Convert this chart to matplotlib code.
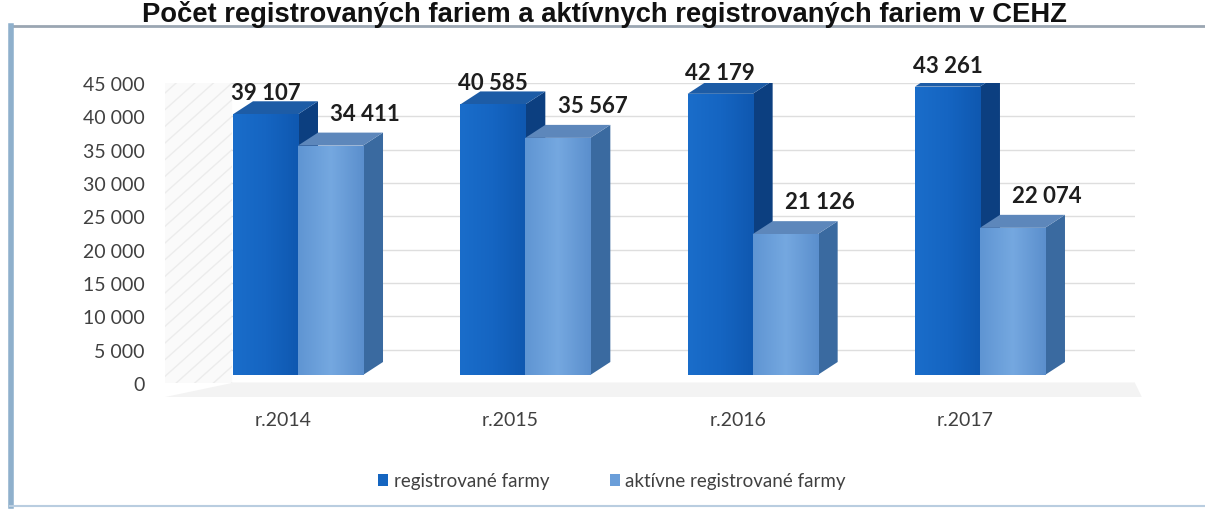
import numpy as np
import matplotlib
matplotlib.use("Agg")
import matplotlib.pyplot as plt
from matplotlib.patches import Polygon, Rectangle
from matplotlib.lines import Line2D
from matplotlib.colors import LinearSegmentedColormap
from matplotlib.transforms import offset_copy

# data
years = ["r.2014", "r.2015", "r.2016", "r.2017"]
registrovane = [39107, 40585, 42179, 43261]
aktivne = [34411, 35567, 21126, 22074]
series_names = ["registrované farmy", "aktívne registrované farmy"]
y_ticks = [0, 5000, 10000, 15000, 20000, 25000, 30000, 35000, 40000, 45000]
title = "Počet registrovaných fariem a aktívnych registrovaných fariem v CEHZ"

W, H = 1205, 510
FONT = "Lato"

# colours of the 3D faces (front, top, side)
dark = ("#1565c0", "#1d5ca6", "#0c3f80")
light = ("#6a9ed9", "#5d87bb", "#3a6aa0")
# horizontal shading of the front faces
dark_grad = LinearSegmentedColormap.from_list("dg", ["#1a6dca", "#1565c2", "#0f58b0"])
light_grad = LinearSegmentedColormap.from_list("lg", ["#5f95d3", "#75a8e0", "#5b8fcd"])

def fmt(v):
    return f"{v:,}".replace(",", " ")

fig = plt.figure(figsize=(W / 100, H / 100), dpi=100)
fig.patch.set_facecolor("white")

# plot area in pixels: x 150..1135, y 84 (top) .. 384 (zero)
ax = fig.add_axes([150 / W, (H - 384) / H, 985 / W, 300 / H])
for s in ax.spines.values():
    s.set_visible(False)
ax.set_facecolor("none")

w = 0.286          # bar width (one series)
DX, DY = 0.088, 1950   # depth of the 3D boxes
side_x0, back_x0, back_x1 = -0.585, -0.29, 3.682

# back wall gridlines and side wall
for v in y_ticks:
    ax.plot([back_x0, back_x1], [v, v], color="#dedede", lw=1, zorder=1)
side = Polygon([(side_x0, -2100), (back_x0, 0), (back_x0, 45000), (side_x0, 45000)],
               closed=True, facecolor="#fafafa", edgecolor="none", zorder=0)
ax.add_patch(side)
for k in range(-2, 24):
    ln, = ax.plot([side_x0, back_x0], [k * 2500 - 9000, k * 2500], color="#ececec", lw=1, zorder=0.5)
    ln.set_clip_path(side)
floor = Polygon([(side_x0, -2100), (back_x0, 0), (back_x1, 0), (back_x1 + 0.03, -2100)],
                closed=True, facecolor="#f3f3f3", edgecolor="none", zorder=0, clip_on=False)
ax.add_patch(floor)

# bars are drawn a few pixels above the back wall floor like in the 3D chart
tr = offset_copy(ax.transData, fig=fig, x=0, y=8, units="dots")
x = np.arange(len(years))

def box(x0, v, cols, z):
    x1 = x0 + w
    ax.add_patch(Polygon([(x1, 0), (x1 + DX, DY), (x1 + DX, v + DY), (x1, v)],
                         closed=True, facecolor=cols[2], edgecolor="none",
                         transform=tr, zorder=z))
    ax.add_patch(Polygon([(x0, v), (x1, v), (x1 + DX, v + DY), (x0 + DX, v + DY)],
                         closed=True, facecolor=cols[1], edgecolor="none",
                         transform=tr, zorder=z))

bars_d = ax.bar(x - w, registrovane, width=w, align="edge", color=dark[0], zorder=4)
bars_l = ax.bar(x, aktivne, width=w, align="edge", color=light[0], zorder=6)
grad = np.linspace(0, 1, 64).reshape(1, -1)
for bars, cmap, z in ((bars_d, dark_grad, 4.5), (bars_l, light_grad, 6.5)):
    for p in bars:
        p.set_transform(tr)
        x0, y0 = p.get_x(), p.get_y()
        im = ax.imshow(grad, cmap=cmap, aspect="auto", interpolation="bicubic",
                       extent=[x0, x0 + p.get_width(), y0, y0 + p.get_height()], zorder=z)
        im.set_transform(tr)
        im.set_clip_path(p)
for i in range(len(years)):
    box(i - w, registrovane[i], dark, 3)
    box(i, aktivne[i], light, 5)
ax.set_xlim(-0.651, 3.682)
ax.set_ylim(0, 45000)

# value labels
tr_lab = offset_copy(ax.transData, fig=fig, x=0, y=6, units="dots")
tr_lab2 = offset_copy(ax.transData, fig=fig, x=0, y=17, units="dots")
for i in range(len(years)):
    ax.text(i - w / 2, registrovane[i] + DY, fmt(registrovane[i]), ha="center", va="bottom",
            fontsize=16, fontweight="bold", family=FONT, color="#1e1e1e",
            transform=tr_lab, zorder=10)
    ax.text(i + w + 0.01, aktivne[i] + DY, fmt(aktivne[i]), ha="center", va="bottom",
            fontsize=16, fontweight="bold", family=FONT, color="#1e1e1e",
            transform=tr_lab2, zorder=10)

# axes ticks
ax.set_yticks(y_ticks)
ax.set_yticklabels([fmt(v) for v in y_ticks], family=FONT, fontsize=14, color="#404040")
ax.set_xticks(x - 0.065)
ax.set_xticklabels(years, family=FONT, fontsize=14, color="#404040")
ax.tick_params(axis="both", length=0)
ax.tick_params(axis="y", pad=4)
ax.tick_params(axis="x", pad=20)

# legend
handles = [Rectangle((0, 0), 1, 1, facecolor=dark[0]), Rectangle((0, 0), 1, 1, facecolor=light[0])]
fig.legend(handles, series_names, loc="center", bbox_to_anchor=(612 / W, (H - 482) / H),
           ncol=2, frameon=False, handlelength=0.55, handleheight=0.55, handletextpad=0.3,
           columnspacing=3.2, prop={"family": FONT, "size": 13.5}, labelcolor="#404040")

# chart frame (top and left edges visible)
fig.add_artist(Line2D([10 / W, 1 + 0.01], [(H - 27) / H] * 2, color="#9aa6b2", lw=2))
fig.add_artist(Line2D([11 / W] * 2, [(H - 27) / H, 3 / H], color="#8fb0cc", lw=4))
fig.add_artist(Line2D([10 / W, 1], [3 / H] * 2, color="#b9cde0", lw=1.5))

# title at the very top
t = fig.text(142 / W, (H - 22) / H, title, fontsize=18, fontweight="bold",
             family="Liberation Sans", va="baseline", ha="left", color="#111111")
fig.canvas.draw()
tw = t.get_window_extent().width
t.set_fontsize(18 * 925 / tw)

fig.savefig("out.png", dpi=100)
